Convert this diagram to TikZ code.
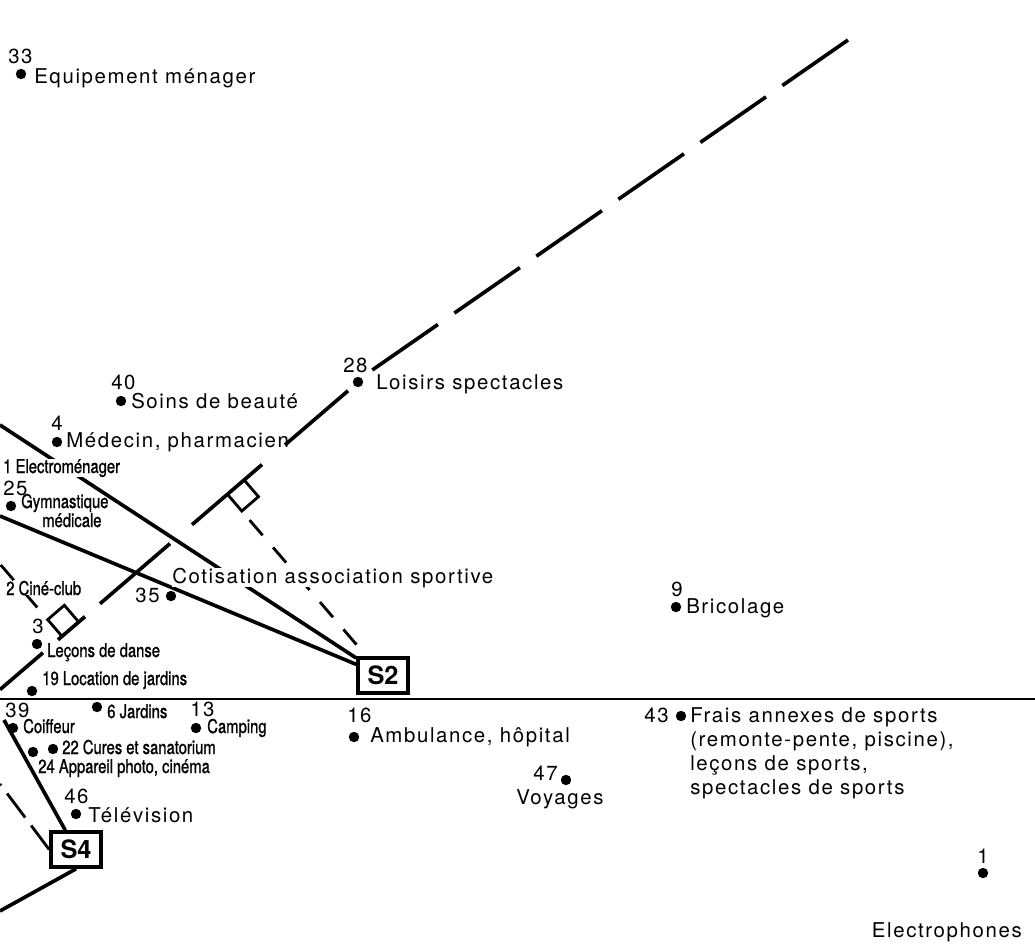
\documentclass[tikz,border=0pt]{standalone}
\usepackage{fontspec}
\setmainfont{TeX Gyre Heros}
\newfontfamily\lblfont[LetterSpace=8]{TeX Gyre Heros}
\newfontfamily\cndfont[FakeStretch=0.78,FakeBold=1]{TeX Gyre Heros}
\usetikzlibrary{calc,positioning}
\tikzset{
  dot/.style={circle,fill,inner sep=0pt,minimum size=0.26cm},
  lbl/.style={font=\lblfont\fontsize{14.5}{17}\selectfont,inner sep=0pt},
  cnd/.style={font=\cndfont\fontsize{13.5}{15}\selectfont,inner sep=0pt},
  gap/.style={fill=white},
  grp/.style={draw,line width=2.6pt,fill=white,minimum width=1.25cm,
    minimum height=0.875cm,inner sep=0pt,
    font=\fontsize{18}{20}\selectfont\bfseries},
  axisline/.style={line width=2.6pt},
  link/.style={line width=2.6pt},
  hline/.style={line width=2pt},
  perp/.style={line width=2pt,dash pattern=on 0.5cm off 0.4cm},
  rightangle/.style={line width=2pt},
}
\begin{document}
\begin{tikzpicture}[x=0.025cm,y=-0.025cm]
  \useasboundingbox (0,0) rectangle (1035,943);
  \clip (0,0) rectangle (1035,943);
  % groups
  \node[grp] (S2) at (383,675.5) {S2};
  \node[grp] (S4) at (76,849.5) {S4};
  % axis
  \coordinate (AxT) at (848,40);
  \coordinate (Ax28) at (372,370.2);
  \coordinate (AxB) at (0,689.6);
  \draw[axisline,dash pattern=on 1.995cm off 0.5cm] (AxT) -- (Ax28);
  \draw[axisline] (348,390.8) -- (285,444.9);
  \draw[axisline] (262,464.6) -- (192,524.7);
  \draw[axisline] (170,543.6) -- (100,603.7);
  \draw[axisline] (85,616.6) -- (58,639.8);
  \draw[axisline] (43,652.7) -- (AxB);
  % projections
  \coordinate (F1) at ($(Ax28)!(S2)!(AxB)$);
  \coordinate (F1a) at ($(F1)!0.55cm!(S2)$);
  \coordinate (F1b) at ($(F1)!0.55cm!(Ax28)$);
  \draw[rightangle] (F1) -- (F1a) -- ($(F1a)+(F1b)-(F1)$) -- (F1b);
  \draw[perp,dash phase=0.6cm] (F1a) -- (S2);
  \coordinate (F2) at (62,636.3);
  \coordinate (F2a) at ($(F2)!0.55cm!90:(Ax28)$);
  \coordinate (F2b) at ($(F2)!0.55cm!(Ax28)$);
  \coordinate (P2) at ($(F2)!5cm!90:(Ax28)$);
  \draw[rightangle] (F2) -- (F2a) -- ($(F2a)+(F2b)-(F2)$) -- (F2b);
  \draw[perp,dash phase=0.5cm] (F2a) -- (P2);
  \coordinate (P4) at (0,784);
  \draw[perp,dash pattern=on 0.75cm off 0.25cm] (S4.west) -- (P4);
  % links
  \coordinate (L1) at (0,425);
  \coordinate (L2) at (0,516);
  \coordinate (L3) at (4,720);
  \coordinate (L4) at (0,911);
  \draw[link] (L1) -- (S2);
  \draw[link] (L2) -- (S2);
  \draw[link] (S4) -- (L3);
  \draw[link] (S4.south) -- (L4);
  \coordinate (H0) at (0,699);
  \coordinate (H1) at (1035,699);
  \draw[hline] (H0) -- (H1);
  % labels above the line
  \node[lbl,anchor=base west] (n33) at (8,63) {33};
  \node[lbl,anchor=base west] (t33) at (34,83) {Equipement ménager};
  \node[lbl,anchor=base west] (n40) at (111,389) {40};
  \node[lbl,anchor=base west] (t40) at (131,408) {Soins de beauté};
  \node[lbl,anchor=base west] (n28) at (343,372) {28};
  \node[lbl,anchor=base west] (t28) at (376,389) {Loisirs spectacles};
  \node[lbl,anchor=base west] (n4) at (51,430) {4};
  \node[lbl,anchor=base west] (t4) at (66,447) {Médecin, pharmacien};
  \node[cnd,gap,anchor=base west] (t1e) at (3,473) {1 Electroménager};
  \node[lbl,anchor=base west] (n25) at (3,495) {25};
  \node[cnd,anchor=base west] (t25) at (21,508) {Gymnastique};
  \node[cnd,anchor=base west] (t25b) at (42,527) {médicale};
  \node[lbl,gap,anchor=base west] (tcot) at (172,583) {Cotisation association sportive};
  \node[lbl,anchor=base east] (n35) at (160,602) {35};
  \node[cnd,gap,anchor=base west] (t2c) at (6,595) {2 Ciné-club};
  \node[lbl,anchor=base west] (n3) at (32,633) {3};
  \node[cnd,anchor=base west] (t3) at (47,657) {Leçons de danse};
  \node[cnd,anchor=base west] (t19) at (42,685) {19 Location de jardins};
  \node[lbl,anchor=base west] (n9) at (671,596) {9};
  \node[lbl,anchor=base west] (t9) at (686,613) {Bricolage};
  % labels below the line
  \node[lbl,anchor=base west] (n39) at (5,717) {39};
  \node[cnd,anchor=base west] (t39) at (23,733) {Coiffeur};
  \node[cnd,anchor=base west] (t6) at (107,718) {6 Jardins};
  \node[lbl,anchor=base west] (n13) at (190,716) {13};
  \node[cnd,anchor=base west] (t13) at (207,733) {Camping};
  \node[cnd,anchor=base west] (t22) at (62,754) {22 Cures et sanatorium};
  \node[cnd,anchor=base west] (t24) at (38,773) {24 Appareil photo, cinéma};
  \node[lbl,anchor=base west] (n46) at (64,803) {46};
  \node[lbl,anchor=base west] (t46) at (88,822) {Télévision};
  \node[lbl,anchor=base west] (n16) at (347,722) {16};
  \node[lbl,anchor=base west] (t16) at (370,742) {Ambulance, hôpital};
  \node[lbl,anchor=base east] (n43) at (669,722) {43};
  \node[lbl,anchor=north west,align=left] (t43) at (690,707.5)
    {Frais annexes de sports\\(remonte-pente, piscine),\\leçons de sports,\\spectacles de sports};
  \node[lbl,anchor=base east] (n47) at (558,780) {47};
  \node[lbl,anchor=base] (t47) at (560,804) {Voyages};
  \node[lbl,anchor=base] (n1) at (983,863) {1};
  \node[lbl,anchor=base east] (t1) at (1022,937) {Electrophones};
  % points
  \node[dot] (d33) at (21,74) {};
  \node[dot] (d40) at (121,401) {};
  \node[dot] (d28) at (358,382) {};
  \node[dot] (d4) at (57,442) {};
  \node[dot] (d25) at (11,506) {};
  \node[dot] (d35) at (171,596) {};
  \node[dot] (d3) at (37,644) {};
  \node[dot] (d19) at (32,691) {};
  \node[dot] (d9) at (676,607) {};
  \node[dot] (d39) at (13,728) {};
  \node[dot] (d6) at (97,707) {};
  \node[dot] (d13) at (196,728) {};
  \node[dot] (d22) at (53,749) {};
  \node[dot] (d24) at (33,752) {};
  \node[dot] (d46) at (76,814) {};
  \node[dot] (d16) at (354,737) {};
  \node[dot] (d43) at (681,716) {};
  \node[dot] (d47) at (566,780) {};
  \node[dot] (d1) at (983,873) {};
\end{tikzpicture}
\end{document}
